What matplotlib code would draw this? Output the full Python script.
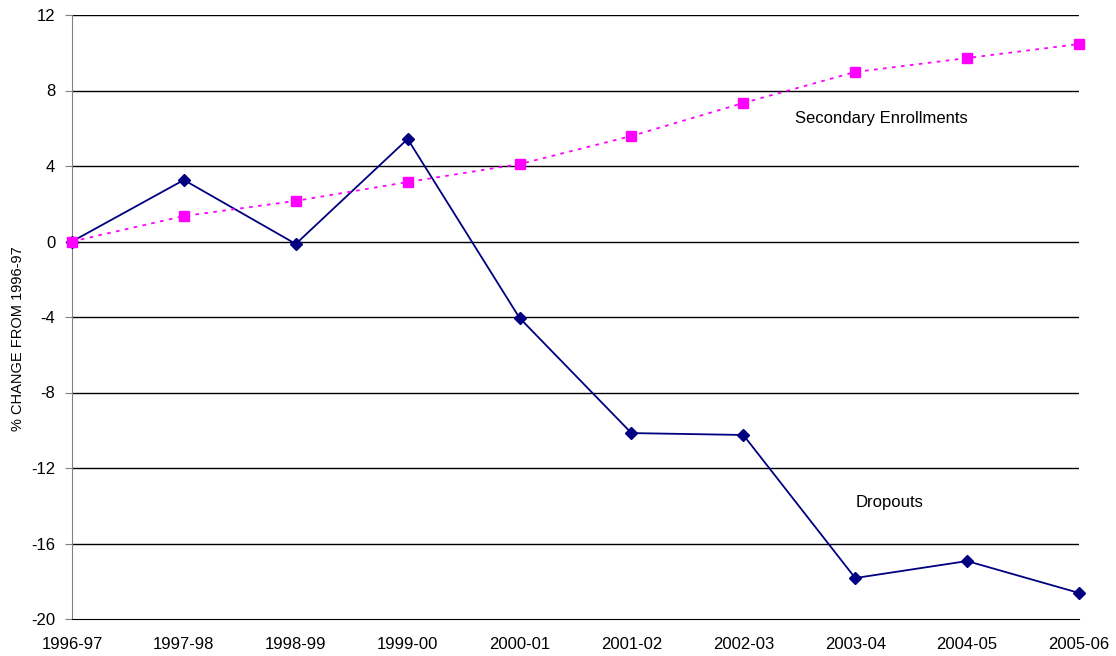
import matplotlib.pyplot as plt

years = ['1996-97', '1997-98', '1998-99', '1999-00', '2000-01',
         '2001-02', '2002-03', '2003-04', '2004-05', '2005-06']
dropouts = [0, 3.26, -0.13, 5.43, -4.05, -10.15, -10.25, -17.83, -16.93, -18.62]
enrollments = [0, 1.35, 2.15, 3.15, 4.1, 5.59, 7.34, 8.98, 9.72, 10.46]
y_ticks = [12, 8, 4, 0, -4, -8, -12, -16, -20]

plt.rcParams['font.family'] = ['Liberation Sans', 'DejaVu Sans']
plt.rcParams['axes.unicode_minus'] = False

fig = plt.figure(figsize=(11.16, 6.56), dpi=100)
ax = fig.add_axes([72 / 1116, 1 - 619 / 656, (1079 - 72) / 1116, (619 - 15) / 656])

x = list(range(len(years)))
ax.plot(x, dropouts, color='#000080', linewidth=1.3, marker='D', markersize=6,
        zorder=3, clip_on=False)
ax.plot(x, enrollments, color='#FF00FF', linewidth=1.3, linestyle=(0, (2, 3)),
        marker='s', markersize=7.5, zorder=3, clip_on=False)

ax.set_xlim(0, 9)
ax.set_ylim(-20, 12)
ax.set_yticks(y_ticks)
ax.set_xticks(x)
ax.set_xticklabels(years)
ax.tick_params(axis='x', length=0, pad=13, labelsize=12)
ax.tick_params(axis='y', length=5, color='#808080', labelsize=12, pad=7)

for yv in y_ticks:
    if yv != -20:
        ax.axhline(yv, color='black', linewidth=1, zorder=1)

for s in ['top', 'right']:
    ax.spines[s].set_visible(False)
ax.spines['left'].set_color('#808080')
ax.spines['bottom'].set_color('black')

ax.set_ylabel('% CHANGE FROM 1996-97', fontsize=10.5)
ax.yaxis.set_label_coords(-0.047, 0.465)

ax.text(6.46, 6.5, 'Secondary Enrollments', fontsize=12, va='center', ha='left')
ax.text(7.31, -13.85, 'Dropouts', fontsize=12, va='center', ha='center')

fig.savefig('out.png', dpi=100)
